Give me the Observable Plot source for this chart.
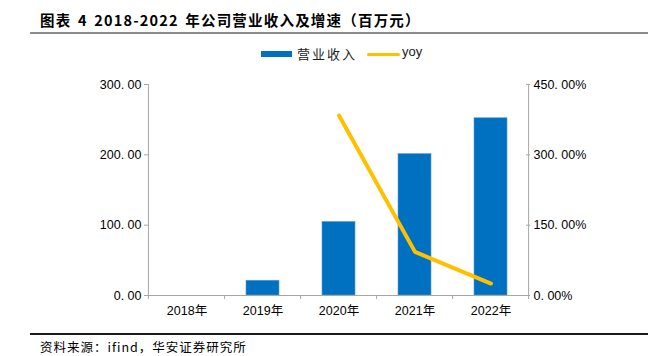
<!DOCTYPE html>
<html><head><meta charset="utf-8">
<script src="https://cdn.jsdelivr.net/npm/d3@7"></script>
<script src="https://cdn.jsdelivr.net/npm/@observablehq/plot@0.6"></script>
<style>
body{margin:0;background:#fff;}
#wrap{position:relative;width:661px;height:356px;overflow:hidden;font-family:"Liberation Sans",Arial,sans-serif;}
#wrap svg{position:absolute;left:0;top:0;}
.abs{position:absolute;white-space:nowrap;}
#title{left:40px;top:9px;font:bold 14.5px "Noto Sans CJK SC",sans-serif;color:#000;letter-spacing:1.2px;word-spacing:2px;}
#tline{left:30px;top:32px;width:618px;height:1.5px;background:#8c8c8c;}
#bline{left:30px;top:333px;width:618px;height:2px;background:#1a1a1a;}
#src{left:40px;top:337px;font:12.5px "Noto Sans CJK SC",sans-serif;color:#000;letter-spacing:1px;}
.leg{font:13px "Noto Sans CJK SC",sans-serif;color:#222;}
</style></head>
<body><div id="wrap">
<div class="abs" id="title">图表 4 2018-2022 年公司营业收入及增速（百万元）</div>
<div class="abs" id="tline"></div>
<div class="abs" style="left:261px;top:51px;width:31px;height:6px;background:#0070C0"></div>
<div class="abs leg" style="left:297px;top:44px;letter-spacing:2px">营业收入</div>
<div class="abs" style="left:367px;top:52.5px;width:33px;height:3px;background:#FFC000;border-radius:2px"></div>
<div class="abs leg" style="left:402px;top:44px;font-family:'Liberation Sans',Arial,sans-serif">yoy</div>
<div class="abs" id="bline"></div>
<div class="abs" id="src">资料来源：ifind，华安证券研究所</div>
</div>
<script>
const years = ["2018年","2019年","2020年","2021年","2022年"];
const revenue = [null, 21, 104.5, 201, 252];
const yoy = [null, null, 384, 93, 25.5]; // percent
const leftTicks = [0, 100, 200, 300];
const rightTicks = [0, 150, 300, 450];

const ratio = 300 / 450;
const bars = years.map((y, i) => ({year: y, value: revenue[i]})).filter(d => d.value != null);
const line = years.map((y, i) => ({year: y, pct: yoy[i]})).filter(d => d.pct != null);
const W = 661, H = 356, mL = 148, mR = 132;

const chart = Plot.plot({
  width: W, height: H,
  marginLeft: mL, marginRight: mR, marginTop: 84, marginBottom: 61,
  style: {fontFamily: "'Liberation Sans',Arial,sans-serif", fontSize: "12px", color: "#000", background: "transparent"},
  x: {type: "band", domain: years, paddingInner: 0.565, paddingOuter: 0.2825, align: 0.5, axis: null},
  y: {domain: [0, 300], axis: null},
  marks: [
    Plot.barY(bars, {x: "year", y: "value", fill: "#0070C0", stroke: "#5b9bd5", strokeWidth: 0.6}),
    Plot.axisY({anchor: "left", ticks: leftTicks, tickSize: 4, tickPadding: 3, stroke: "#a6a6a6", label: null,
      tickFormat: d => d.toFixed(2).replace(".", ". "), fontSize: 12.5, fill: "#000"}),
    Plot.axisY({anchor: "right", ticks: rightTicks.map(t => t * ratio), tickSize: -4, tickPadding: 8, stroke: "#a6a6a6", label: null,
      tickFormat: d => (d / ratio).toFixed(2).replace(".", ". ") + "%", fontSize: 12.5, fill: "#000"}),
    Plot.ruleY([0], {stroke: "#a6a6a6", strokeWidth: 1}),
    Plot.axisX({ticks: years, tickSize: 0, tickPadding: 11, fontSize: 12.5, fill: "#000", label: null,
      fontFamily: "'Liberation Sans','Noto Sans CJK SC',sans-serif"}),
    Plot.line(line, {x: "year", y: d => d.pct * ratio, stroke: "#FFC000", strokeWidth: 4, strokeLinejoin: "round", strokeLinecap: "round"})
  ]
});
// axis lines and boundary tick marks, positioned via the chart's scales
const xs = chart.scale("x"), ys = chart.scale("y");
document.getElementById("wrap").prepend(chart);
const svg = d3.select(chart);
const y0 = ys.apply(0), yTop = ys.apply(300);
const step = (xs.range[1] - xs.range[0]) / years.length;
const bounds = [xs.apply(years[0]) + xs.bandwidth/2 - step/2].concat(years.map(y => xs.apply(y) + xs.bandwidth/2 + step/2));
const g = svg.append("g").attr("stroke", "#a6a6a6").attr("stroke-width", 1);
g.append("line").attr("x1", bounds[0]).attr("x2", bounds[0]).attr("y1", yTop).attr("y2", y0);
g.append("line").attr("x1", bounds[bounds.length-1]).attr("x2", bounds[bounds.length-1]).attr("y1", yTop).attr("y2", y0);
g.selectAll("line.b").data(bounds).join("line").attr("class", "b")
  .attr("x1", d => d).attr("x2", d => d).attr("y1", y0).attr("y2", y0 + 4);
</script>
</body></html>
